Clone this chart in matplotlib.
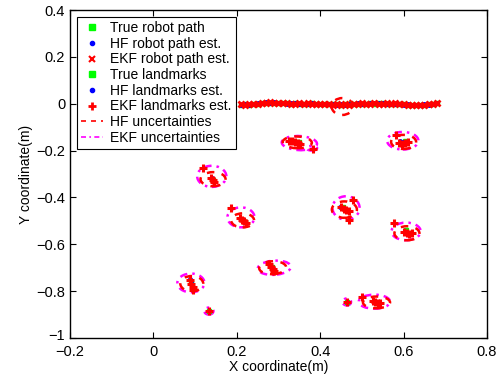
import matplotlib.pyplot as plt
from matplotlib.patches import Ellipse
from matplotlib.lines import Line2D
from matplotlib.transforms import ScaledTranslation

plt.rcParams['font.family'] = ['Liberation Sans', 'DejaVu Sans']

path_x = [0.21, 0.22, 0.23, 0.24, 0.25, 0.26, 0.27, 0.28, 0.29, 0.30, 0.31, 0.32,
          0.33, 0.34, 0.35, 0.36, 0.37, 0.38, 0.39, 0.40, 0.41, 0.42, 0.43, 0.44,
          0.45, 0.46, 0.47, 0.48, 0.49, 0.50, 0.51, 0.52, 0.53, 0.54, 0.55, 0.56,
          0.57, 0.58, 0.59, 0.60, 0.61, 0.62, 0.63, 0.64, 0.65, 0.66, 0.67, 0.68]
true_path_y = [-0.004, -0.003, -0.004, -0.002, 0.000, 0.002, 0.004, 0.005, 0.004, 0.003, 0.003, 0.001,
               0.000, 0.001, 0.000, -0.001, 0.000, 0.001, -0.001, -0.002, -0.001, -0.002, -0.003, -0.002,
               -0.004, -0.003, -0.002, -0.001, 0.000, -0.001, 0.000, 0.001, 0.000, 0.002, 0.001, 0.000,
               -0.001, 0.000, -0.002, -0.003, -0.004, -0.005, -0.006, -0.005, -0.004, -0.003, -0.001, 0.003]
hf_path_y = [-0.006, -0.002, -0.005, -0.001, 0.001, 0.003, 0.006, 0.004, 0.006, 0.002, 0.004, 0.000,
             0.001, 0.002, -0.001, 0.000, -0.001, 0.002, 0.000, -0.003, 0.000, -0.003, -0.002, -0.004,
             -0.003, -0.005, -0.001, -0.002, 0.001, 0.000, -0.001, 0.002, 0.001, 0.001, 0.003, -0.001,
             0.000, -0.001, -0.001, -0.004, -0.003, -0.007, -0.005, -0.006, -0.003, -0.004, 0.000, 0.004]
ekf_path_y = [-0.003, -0.005, -0.002, -0.003, -0.001, 0.004, 0.003, 0.007, 0.003, 0.005, 0.001, 0.002,
              -0.001, 0.000, 0.002, -0.002, 0.001, 0.000, -0.002, -0.001, -0.003, -0.001, -0.004, -0.001,
              -0.006, -0.002, -0.004, 0.000, -0.001, 0.001, -0.002, 0.000, 0.002, 0.000, 0.000, 0.002,
              -0.002, 0.001, -0.003, -0.002, -0.006, -0.004, -0.007, -0.004, -0.006, -0.002, -0.002, 0.005]

# true landmarks
lm_true_x = [0.349, 0.604, 0.143, 0.220, 0.455, 0.606, 0.090, 0.284, 0.133, 0.536, 0.464]
lm_true_y = [-0.163, -0.159, -0.326, -0.505, -0.441, -0.539, -0.761, -0.697, -0.885, -0.850, -0.846]

# HF landmark estimates
hf_lm_x = [0.330, 0.340, 0.345, 0.598, 0.592, 0.140, 0.145, 0.212, 0.216, 0.448, 0.460,
           0.605, 0.612, 0.088, 0.092, 0.280, 0.288, 0.530, 0.540]
hf_lm_y = [-0.160, -0.165, -0.168, -0.165, -0.160, -0.318, -0.330, -0.490, -0.500, -0.440, -0.452,
           -0.548, -0.556, -0.750, -0.768, -0.690, -0.705, -0.842, -0.852]

# EKF landmark estimates
ekf_lm_x = [0.326, 0.333, 0.340, 0.347, 0.352, 0.383,
            0.590, 0.597, 0.604, 0.610, 0.582,
            0.139, 0.143, 0.146, 0.119,
            0.208, 0.213, 0.218, 0.222, 0.186,
            0.450, 0.457, 0.463, 0.468, 0.479, 0.469,
            0.600, 0.607, 0.614, 0.620, 0.577,
            0.088, 0.091, 0.094, 0.095,
            0.278, 0.283, 0.287, 0.290,
            0.133,
            0.526, 0.532, 0.538, 0.544, 0.500,
            0.464]
ekf_lm_y = [-0.158, -0.160, -0.164, -0.168, -0.170, -0.193,
            -0.166, -0.170, -0.168, -0.165, -0.134,
            -0.318, -0.326, -0.334, -0.274,
            -0.488, -0.495, -0.502, -0.508, -0.445,
            -0.440, -0.448, -0.455, -0.460, -0.411, -0.496,
            -0.546, -0.552, -0.556, -0.552, -0.509,
            -0.752, -0.770, -0.782, -0.795,
            -0.684, -0.695, -0.704, -0.712,
            -0.885,
            -0.842, -0.848, -0.852, -0.850, -0.825,
            -0.846]

# HF uncertainty ellipses (centre, width, height, angle)
hf_ell_x = [0.345, 0.600, 0.143, 0.214, 0.458, 0.608, 0.092, 0.286, 0.535, 0.453]
hf_ell_y = [-0.165, -0.163, -0.322, -0.498, -0.452, -0.553, -0.768, -0.700, -0.848, -0.012]
hf_ell_w = [0.070, 0.060, 0.060, 0.055, 0.060, 0.060, 0.055, 0.065, 0.065, 0.051]
hf_ell_h = [0.050, 0.060, 0.060, 0.060, 0.070, 0.060, 0.065, 0.055, 0.050, 0.072]
hf_ell_a = [-5, 0, 0, 0, 0, 0, 0, 10, 0, 0]

# EKF uncertainty ellipses
ekf_ell_x = [0.350, 0.598, 0.140, 0.210, 0.462, 0.606, 0.090, 0.290, 0.530, 0.133, 0.464, 0.380]
ekf_ell_y = [-0.168, -0.158, -0.310, -0.485, -0.445, -0.545, -0.765, -0.700, -0.845, -0.885, -0.846, -0.190]
ekf_ell_w = [0.085, 0.075, 0.070, 0.065, 0.065, 0.070, 0.065, 0.080, 0.075, 0.022, 0.020, 0.025]
ekf_ell_h = [0.060, 0.075, 0.090, 0.085, 0.100, 0.075, 0.080, 0.060, 0.060, 0.030, 0.030, 0.020]
ekf_ell_a = [-8, 0, 0, 0, 0, 0, 0, 12, 0, 0, 0, 0]

xtick_vals = [-0.2, 0, 0.2, 0.4, 0.6, 0.8]
xtick_labels = ['\u22120.2', '0', '0.2', '0.4', '0.6', '0.8']
ytick_vals = [0.4, 0.2, 0, -0.2, -0.4, -0.6, -0.8, -1]
ytick_labels = ['0.4', '0.2', '0', '\u22120.2', '\u22120.4', '\u22120.6', '\u22120.8', '\u22121']

fig = plt.figure(figsize=(5.04, 3.77), dpi=100)
ax = fig.add_axes([70 / 504, 1 - 338 / 377, 417 / 504, 328 / 377])

# uncertainties first so the markers sit on top
for x, y, w, h, a in zip(ekf_ell_x, ekf_ell_y, ekf_ell_w, ekf_ell_h, ekf_ell_a):
    ax.add_patch(Ellipse((x, y), w, h, angle=a, fill=False, edgecolor='magenta',
                         linestyle=(0, (3, 2, 1, 2)), linewidth=1.8))
for x, y, w, h, a in zip(hf_ell_x, hf_ell_y, hf_ell_w, hf_ell_h, hf_ell_a):
    ax.add_patch(Ellipse((x, y), w, h, angle=a, fill=False, edgecolor='red',
                         linestyle=(0, (3, 3)), linewidth=1.8))

ax.plot(path_x, true_path_y, 's', color='#00ff00', ms=3.5, mec='#00ff00', linestyle='none')
ax.plot(path_x, hf_path_y, '.', color='blue', ms=5, linestyle='none')
ax.plot(path_x, ekf_path_y, 'x', color='red', ms=4.5, mew=2, linestyle='none')
ax.plot(lm_true_x, lm_true_y, 's', color='#00ff00', ms=3.5, linestyle='none')
ax.plot(hf_lm_x, hf_lm_y, '.', color='blue', ms=5, linestyle='none')
ax.plot(ekf_lm_x, ekf_lm_y, '+', color='red', ms=5.5, mew=2.2, linestyle='none')

ax.set_xlim(-0.2, 0.8)
ax.set_ylim(-1, 0.4)
ax.set_xticks(xtick_vals)
ax.set_xticklabels(xtick_labels)
ax.set_yticks(ytick_vals)
ax.set_yticklabels(ytick_labels)
ax.tick_params(direction='in', top=True, right=True, length=4, labelsize=10.5)
ax.tick_params(axis='x', pad=5)
# MATLAB puts the lowest y label slightly above the corner
low = ax.get_yticklabels()[-1]
low.set_transform(low.get_transform() + ScaledTranslation(0, 4 / 100, fig.dpi_scale_trans))
for s in ax.spines.values():
    s.set_linewidth(1.0)
ax.set_xlabel('X coordinate(m)', fontsize=10, labelpad=1)
ax.set_ylabel('Y coordinate(m)', fontsize=10, labelpad=2)

handles = [
    Line2D([], [], marker='s', color='#00ff00', ms=4, linestyle='none'),
    Line2D([], [], marker='.', color='blue', ms=6, linestyle='none'),
    Line2D([], [], marker='x', color='red', ms=4, mew=1.5, linestyle='none'),
    Line2D([], [], marker='s', color='#00ff00', ms=4, linestyle='none'),
    Line2D([], [], marker='.', color='blue', ms=6, linestyle='none'),
    Line2D([], [], marker='+', color='red', ms=6, mew=2, linestyle='none'),
    Line2D([], [], color='red', linestyle=(0, (3, 3)), lw=1.2),
    Line2D([], [], color='magenta', linestyle=(0, (3, 2, 1, 2)), lw=1.2),
]
labels = ['True robot path', 'HF robot path est.', 'EKF robot path est.', 'True landmarks',
          'HF landmarks est.', 'EKF landmarks est.', 'HF uncertainties', 'EKF uncertainties']
leg = ax.legend(handles, labels, loc='upper left', fontsize=10, fancybox=False,
                framealpha=1, edgecolor='black', handlelength=1.6, handletextpad=0.5,
                labelspacing=0.12, borderpad=0.3, borderaxespad=0.5)
leg.get_frame().set_linewidth(0.8)

fig.savefig('out.png', dpi=100)
